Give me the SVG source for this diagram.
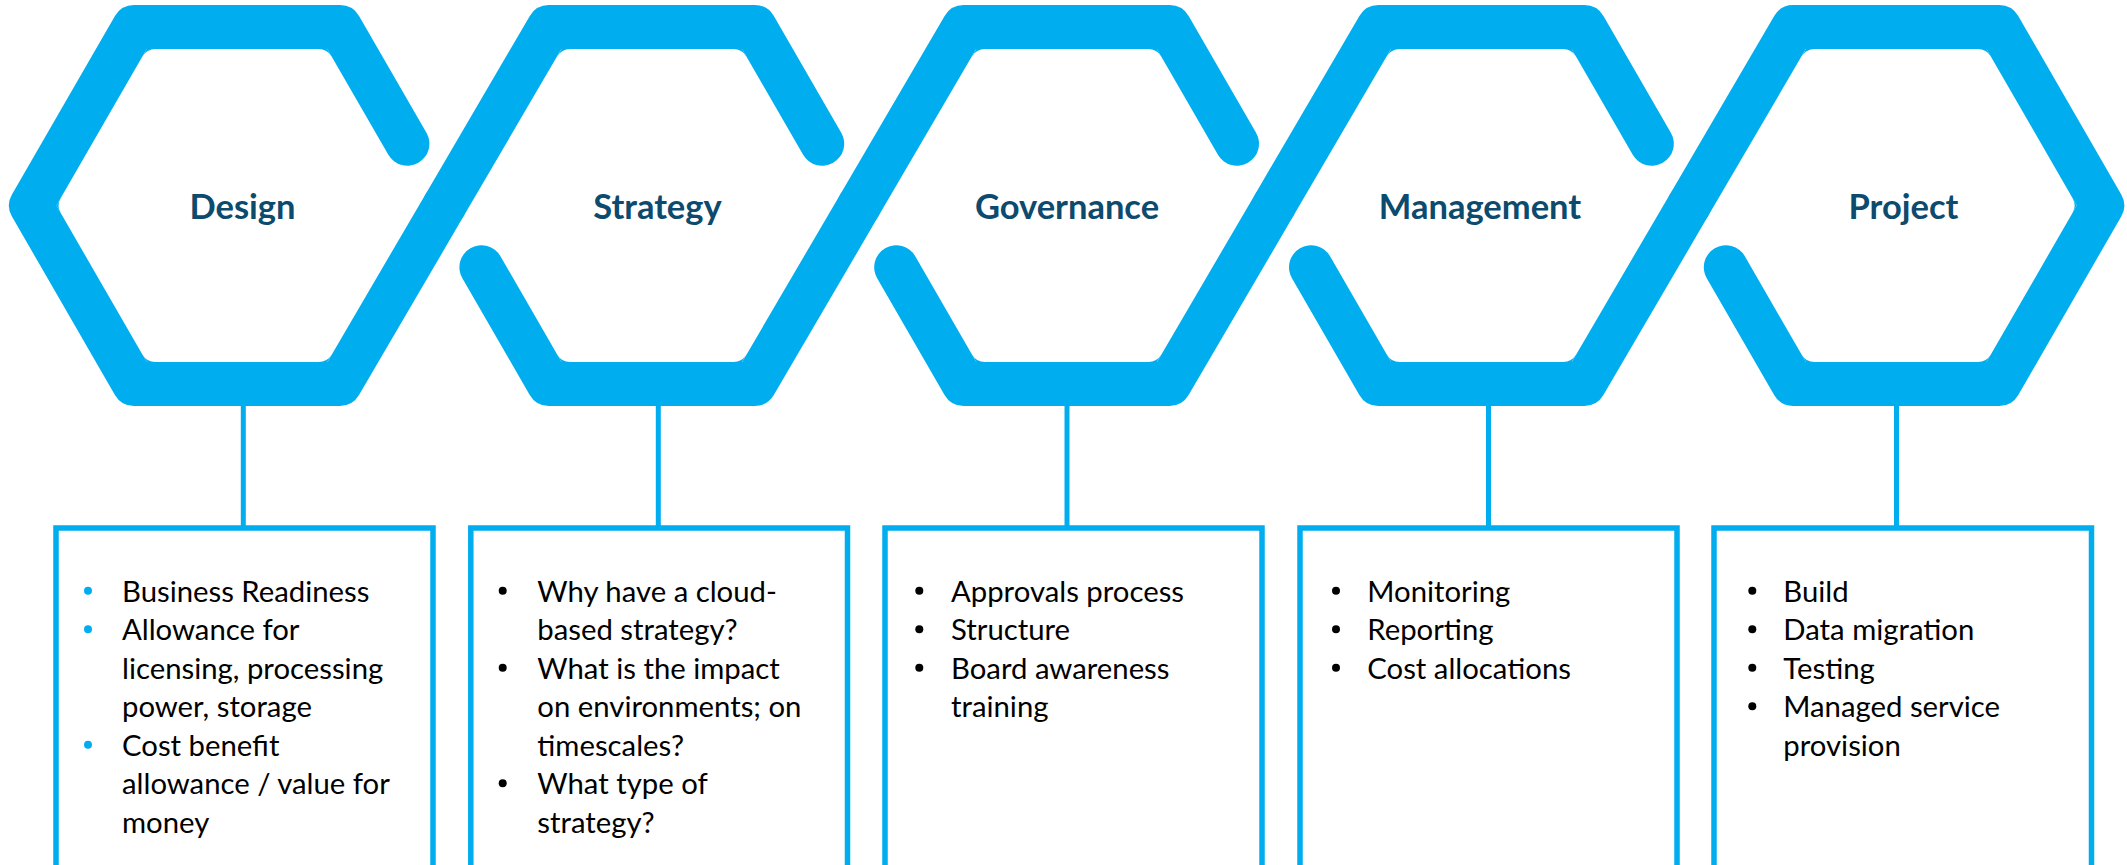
<svg xmlns="http://www.w3.org/2000/svg" width="2127" height="865" viewBox="0 0 2127 865">
  <style>
    .ring { fill: none; stroke: #00AEEF; stroke-width: 44; stroke-linecap: round; stroke-linejoin: round; }
    .fillet { fill: #00AEEF; }
    .box { fill: #FFFFFF; stroke: #00AEEF; stroke-width: 5.5; }
    .link { stroke: #00AEEF; stroke-width: 5; fill: none; }
    .title { font-family: Lato, "Liberation Sans", sans-serif; font-weight: 700; font-size: 34.5px; fill: #0C4A6E; text-anchor: middle; }
    .item { font-family: Lato, "Liberation Sans", sans-serif; font-size: 29.3px; fill: #000000; }
    .dot { fill: #000000; }
    .dot-blue { fill: #00AEEF; }
  </style>

  <defs>
    <!-- rounds off the inside of a 120 degree band corner; origin = band centre-line corner, +x = into the opening -->
    <path id="fillet" class="fillet" d="M25.4 0 L29.73 7.5 A15 15 0 0 1 29.73 -7.5 Z"/>
  </defs>

  <rect width="2127" height="865" fill="#FFFFFF"/>

  <!-- connectors: hexagon to detail box -->
  <g id="connectors">
    <line class="link" x1="243.3" y1="400" x2="243.3" y2="528"/>
    <line class="link" x1="658.3" y1="400" x2="658.3" y2="528"/>
    <line class="link" x1="1067" y1="400" x2="1067" y2="528"/>
    <line class="link" x1="1488.5" y1="400" x2="1488.5" y2="528"/>
    <line class="link" x1="1896.5" y1="400" x2="1896.5" y2="528"/>
  </g>

  <!-- interlocking hexagon chain -->
  <g id="hex-design">
    <path class="ring" d="M407.4 143.7 L340 27 L134 27 L31 205.5 L134 384 L340 384 L444.4 205.5"/>
    <use href="#fillet" transform="translate(340 27) rotate(120)"/>
    <use href="#fillet" transform="translate(134 27) rotate(60)"/>
    <use href="#fillet" transform="translate(31 205.5)"/>
    <use href="#fillet" transform="translate(134 384) rotate(-60)"/>
    <use href="#fillet" transform="translate(340 384) rotate(-120)"/>
    <text class="title" x="242.5" y="219">Design</text>
  </g>
  <g id="hex-strategy">
    <path class="ring" d="M444.4 205.5 L548.8 27 L754.8 27 L822.2 143.7"/>
    <path class="ring" d="M481.4 267.3 L548.8 384 L754.8 384 L859.2 205.5"/>
    <use href="#fillet" transform="translate(548.8 27) rotate(60)"/>
    <use href="#fillet" transform="translate(754.8 27) rotate(120)"/>
    <use href="#fillet" transform="translate(548.8 384) rotate(-60)"/>
    <use href="#fillet" transform="translate(754.8 384) rotate(-120)"/>
    <text class="title" x="657.5" y="219">Strategy</text>
  </g>
  <g id="hex-governance">
    <path class="ring" d="M859.2 205.5 L963.6 27 L1169.6 27 L1237 143.7"/>
    <path class="ring" d="M896.2 267.3 L963.6 384 L1169.6 384 L1274 205.5"/>
    <use href="#fillet" transform="translate(963.6 27) rotate(60)"/>
    <use href="#fillet" transform="translate(1169.6 27) rotate(120)"/>
    <use href="#fillet" transform="translate(963.6 384) rotate(-60)"/>
    <use href="#fillet" transform="translate(1169.6 384) rotate(-120)"/>
    <text class="title" x="1067" y="219">Governance</text>
  </g>
  <g id="hex-management">
    <path class="ring" d="M1274 205.5 L1378.4 27 L1584.4 27 L1651.8 143.7"/>
    <path class="ring" d="M1311 267.3 L1378.4 384 L1584.4 384 L1688.8 205.5"/>
    <use href="#fillet" transform="translate(1378.4 27) rotate(60)"/>
    <use href="#fillet" transform="translate(1584.4 27) rotate(120)"/>
    <use href="#fillet" transform="translate(1378.4 384) rotate(-60)"/>
    <use href="#fillet" transform="translate(1584.4 384) rotate(-120)"/>
    <text class="title" x="1480" y="219">Management</text>
  </g>
  <g id="hex-project">
    <path class="ring" d="M1688.8 205.5 L1793.2 27 L1999.2 27 L2102.2 205.5 L1999.2 384 L1793.2 384 L1725.8 267.3"/>
    <use href="#fillet" transform="translate(1793.2 27) rotate(60)"/>
    <use href="#fillet" transform="translate(1999.2 27) rotate(120)"/>
    <use href="#fillet" transform="translate(2102.2 205.5) rotate(180)"/>
    <use href="#fillet" transform="translate(1999.2 384) rotate(-120)"/>
    <use href="#fillet" transform="translate(1793.2 384) rotate(-60)"/>
    <text class="title" x="1903.5" y="219">Project</text>
  </g>

  <!-- detail boxes -->
  <g id="box-design">
    <rect class="box" x="56" y="528" width="377" height="400"/>
    <circle class="dot-blue" cx="88" cy="590.7" r="4"/>
    <circle class="dot-blue" cx="88" cy="629.2" r="4"/>
    <circle class="dot-blue" cx="88" cy="744.7" r="4"/>
    <text class="item" x="122" y="601.7">Business Readiness</text>
    <text class="item" x="122" y="640.2">Allowance for</text>
    <text class="item" x="122" y="678.7">licensing, processing</text>
    <text class="item" x="122" y="717.2">power, storage</text>
    <text class="item" x="122" y="755.7">Cost benefit</text>
    <text class="item" x="122" y="794.2">allowance / value for</text>
    <text class="item" x="122" y="832.7">money</text>
  </g>

  <g id="box-strategy">
    <rect class="box" x="470.8" y="528" width="376.7" height="400"/>
    <circle class="dot" cx="502.7" cy="590.7" r="4"/>
    <circle class="dot" cx="502.7" cy="667.7" r="4"/>
    <circle class="dot" cx="502.7" cy="783.2" r="4"/>
    <text class="item" x="537.3" y="601.7">Why have a cloud-</text>
    <text class="item" x="537.3" y="640.2">based strategy?</text>
    <text class="item" x="537.3" y="678.7">What is the impact</text>
    <text class="item" x="537.3" y="717.2">on environments; on</text>
    <text class="item" x="537.3" y="755.7">timescales?</text>
    <text class="item" x="537.3" y="794.2">What type of</text>
    <text class="item" x="537.3" y="832.7">strategy?</text>
  </g>

  <g id="box-governance">
    <rect class="box" x="885" y="528" width="377" height="400"/>
    <circle class="dot" cx="919.3" cy="590.7" r="4"/>
    <circle class="dot" cx="919.3" cy="629.2" r="4"/>
    <circle class="dot" cx="919.3" cy="667.7" r="4"/>
    <text class="item" x="951" y="601.7">Approvals process</text>
    <text class="item" x="951" y="640.2">Structure</text>
    <text class="item" x="951" y="678.7">Board awareness</text>
    <text class="item" x="951" y="717.2">training</text>
  </g>

  <g id="box-management">
    <rect class="box" x="1300" y="528" width="377" height="400"/>
    <circle class="dot" cx="1336" cy="590.7" r="4"/>
    <circle class="dot" cx="1336" cy="629.2" r="4"/>
    <circle class="dot" cx="1336" cy="667.7" r="4"/>
    <text class="item" x="1367.3" y="601.7">Monitoring</text>
    <text class="item" x="1367.3" y="640.2">Reporting</text>
    <text class="item" x="1367.3" y="678.7">Cost allocations</text>
  </g>

  <g id="box-project">
    <rect class="box" x="1714" y="528" width="377.5" height="400"/>
    <circle class="dot" cx="1752.3" cy="590.7" r="4"/>
    <circle class="dot" cx="1752.3" cy="629.2" r="4"/>
    <circle class="dot" cx="1752.3" cy="667.7" r="4"/>
    <circle class="dot" cx="1752.3" cy="706.2" r="4"/>
    <text class="item" x="1783.3" y="601.7">Build</text>
    <text class="item" x="1783.3" y="640.2">Data migration</text>
    <text class="item" x="1783.3" y="678.7">Testing</text>
    <text class="item" x="1783.3" y="717.2">Managed service</text>
    <text class="item" x="1783.3" y="755.7">provision</text>
  </g>
</svg>
